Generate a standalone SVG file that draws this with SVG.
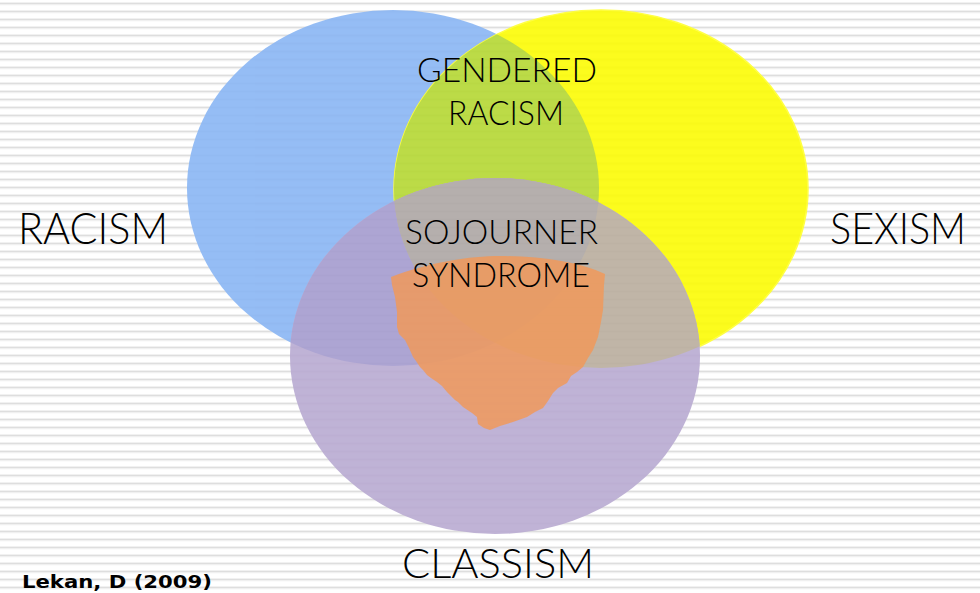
<svg xmlns="http://www.w3.org/2000/svg" width="980" height="593" viewBox="0 0 980 593">
  <defs>
    <pattern id="stripes" width="980" height="8" patternUnits="userSpaceOnUse" y="0">
      <rect width="980" height="8" fill="#ffffff"/>
      <rect y="2.6" width="980" height="1.6" fill="#dedede"/>
      <rect y="4.2" width="980" height="1" fill="#efefef"/>
    </pattern>
    <clipPath id="clip-blue"><ellipse cx="393" cy="188" rx="206" ry="178"/></clipPath>
    <clipPath id="clip-yellow"><ellipse cx="601" cy="189" rx="207" ry="179"/></clipPath>
    <style>
      .big { font-family: "Lato", "Liberation Sans", sans-serif; font-weight: 300; fill: #000; }
      .cite { font-family: "DejaVu Sans", "Verdana", sans-serif; font-weight: bold; font-size: 18px; fill: #000; }
    </style>
  </defs>

  <!-- striped backdrop -->
  <rect width="980" height="593" fill="url(#stripes)"/>

  <!-- three overlapping sets -->
  <g id="venn" opacity="0.9">
    <g id="racism-set">
      <ellipse cx="393" cy="188" rx="206" ry="178" fill="#8ab6f4"/>
    </g>
    <g id="sexism-set">
      <ellipse cx="601" cy="189" rx="207" ry="179" fill="#fcfc05" stroke="#ffff30" stroke-width="1.5"/>
    </g>
    <g id="classism-set">
      <ellipse cx="495" cy="356" rx="205" ry="178" fill="#b9abd2"/>
    </g>
    <!-- pairwise and triple overlaps -->
    <g id="gendered-racism">
      <ellipse cx="601" cy="189" rx="207" ry="179" fill="#b5d834" clip-path="url(#clip-blue)"/>
    </g>
    <ellipse cx="495" cy="356" rx="205" ry="178" fill="#a59ccf" clip-path="url(#clip-blue)"/>
    <ellipse cx="495" cy="356" rx="205" ry="178" fill="#baae9e" clip-path="url(#clip-yellow)"/>
    <g id="sojourner-syndrome" clip-path="url(#clip-yellow)">
      <ellipse cx="495" cy="356" rx="205" ry="178" fill="#aea7a5" clip-path="url(#clip-blue)"/>
    </g>
  </g>

  <!-- rough orange patch at the centre -->
  <g id="core">
    <path fill="#f0995a" opacity="0.85" d="M391,277 C430,262 470,256 500,256 C540,256 580,262 605,274
      L604,285 L603,310 L601,322 L598,337 L593,350 L588,358 L583,367 L577,372 L571,376 L567,383 L558,388
      L553,393 L548,401 L543,408 L535,412 L527,417 L513,422 L500,426 L490,430 L484,428 L478,424 L477,417
      L472,413 L466,409 L463,407 L458,402 L455,400 L450,395 L447,392 L442,386 L437,382 L431,378 L427,375
      L423,370 L420,367 L416,361 L413,357 L409,348 L405,340 L399,334 L397,327 L397,312 L395,297 L392,285 Z"/>
  </g>

  <!-- labels -->
  <g id="labels">
    <text class="big" x="18" y="244" font-size="44" textLength="150" lengthAdjust="spacingAndGlyphs">RACISM</text>
    <text class="big" x="830" y="244" font-size="44" textLength="136" lengthAdjust="spacingAndGlyphs">SEXISM</text>
    <text class="big" x="402" y="578" font-size="41" textLength="192" lengthAdjust="spacingAndGlyphs">CLASSISM</text>
    <text class="big" x="417" y="82" font-size="34" textLength="180" lengthAdjust="spacingAndGlyphs">GENDERED</text>
    <text class="big" x="448" y="125" font-size="34" textLength="116" lengthAdjust="spacingAndGlyphs">RACISM</text>
    <text class="big" x="405" y="244" font-size="34" textLength="193" lengthAdjust="spacingAndGlyphs">SOJOURNER</text>
    <text class="big" x="412" y="287" font-size="34" textLength="178" lengthAdjust="spacingAndGlyphs">SYNDROME</text>
    <text class="cite" x="22" y="588" textLength="190" lengthAdjust="spacingAndGlyphs">Lekan, D (2009)</text>
  </g>
</svg>
